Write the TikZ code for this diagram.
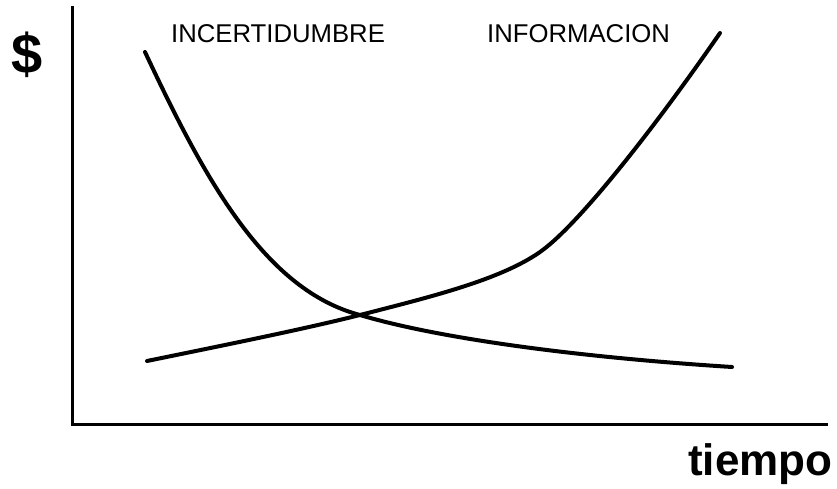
\documentclass[tikz,border=0pt]{standalone}
\usepackage{fontspec}
\setmainfont{Liberation Sans}
\begin{document}
\begin{tikzpicture}[x=1pt,y=-1pt,
  axis/.style={line width=3pt},
  curve/.style={line width=4pt, line cap=round, line join=round},
  label/.style={font=\fontsize{25.7}{26}\selectfont, inner sep=0pt, anchor=base west},
  biglabel/.style={font=\bfseries\fontsize{44}{44}\selectfont, inner sep=0pt, anchor=base west}]
\useasboundingbox (0,0) rectangle (837,489);
\coordinate (ytop) at (72,6);
\coordinate (orig) at (72,424);
\coordinate (xend) at (828,424);
\draw[axis] (ytop) -- (orig) -- (xend);
\node[biglabel, font=\bfseries\fontsize{56}{56}\selectfont, anchor=center] (dollar) at (27,55) {\$};
\node[biglabel] (tiempo) at (688,475) {tiempo};
\node[label] (incert) at (171,43) {INCERTIDUMBRE};
\node[label] (inform) at (487,43) {INFORMACION};
% incertidumbre (decreasing)
\coordinate (d0) at (145,52);
\coordinate (x0) at (360,315);
\coordinate (d1) at (732,367);
\draw[curve] (d0) .. controls (205,180) and (265,290) .. (x0)
  .. controls (430,336) and (560,356) .. (d1);
% informacion (increasing)
\coordinate (i0) at (147,361);
\coordinate (i1) at (540,252);
\coordinate (i2) at (720,33);
\draw[curve] (i0) .. controls (220,346) and (300,330) .. (x0)
  .. controls (430,297) and (500,280) .. (i1)
  .. controls (580,224) and (660,120) .. (i2);
\end{tikzpicture}
\end{document}
